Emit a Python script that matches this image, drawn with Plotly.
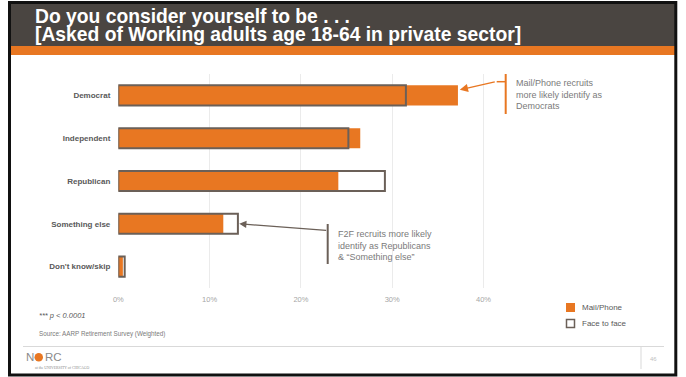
import plotly.graph_objects as go

# Party identification by recruitment mode (percent of respondents)
categories = ["Democrat", "Independent", "Republican", "Something else", "Don't know/skip"]
mail_phone = [37.2, 26.5, 24.1, 11.5, 0.5]
face_to_face = [31.5, 25.2, 29.2, 13.1, 0.7]
series_names = ["Mail/Phone", "Face to face"]
tick_values = [0, 10, 20, 30, 40]
tick_labels = ["0%", "10%", "20%", "30%", "40%"]

W, H = 686, 377
FONT = "Liberation Sans, Arial, sans-serif"
ORANGE = "#E87722"
OUTLINE = "#6b6058"
HEADER = "#4a4541"


def px(x):
    return x / W


def py(y):
    return 1 - y / H


fig = go.Figure()

fig.add_trace(go.Bar(
    y=categories, x=mail_phone, name=series_names[0], orientation="h",
    width=0.47, marker=dict(color=ORANGE, line=dict(width=0)),
    showlegend=False,
))
fig.add_trace(go.Bar(
    y=categories, x=face_to_face, name=series_names[1], orientation="h",
    width=0.47, marker=dict(color="rgba(0,0,0,0)", line=dict(color=OUTLINE, width=2)),
    showlegend=False,
))

shapes = []
annotations = []

# slide frame, header band and accent stripe
shapes.append(dict(type="rect", xref="paper", yref="paper",
                   x0=px(10), x1=px(675), y0=py(46), y1=py(3.5),
                   fillcolor=HEADER, line=dict(width=0), layer="below"))
shapes.append(dict(type="rect", xref="paper", yref="paper",
                   x0=px(10), x1=px(675), y0=py(55), y1=py(46),
                   fillcolor=ORANGE, line=dict(width=0), layer="below"))
shapes.append(dict(type="rect", xref="paper", yref="paper",
                   x0=px(9.5), x1=px(675.8), y0=py(375), y1=py(2.5),
                   line=dict(color="#111111", width=3)))

# two-line heading: small base size keeps the line pitch tight
title_style = "font-size:19.3px;font-weight:bold"
annotations.append(dict(
    xref="paper", yref="paper", x=px(33), y=py(25.5),
    xanchor="left", yanchor="middle", align="left", showarrow=False,
    text=("<span style='%s'>Do you consider yourself to be . . .</span><br>"
          "<span style='%s'>[Asked of Working adults age 18-64 in private sector]</span>")
         % (title_style, title_style),
    font=dict(family=FONT, size=14, color="white")))

# callout: Mail/Phone -> Democrats
shapes.append(dict(type="line", xref="paper", yref="paper",
                   x0=px(505.7), x1=px(505.7), y0=py(74), y1=py(114),
                   line=dict(color=ORANGE, width=2)))
shapes.append(dict(type="line", xref="paper", yref="paper",
                   x0=px(505.7), x1=px(496.7), y0=py(81.7), y1=py(81.7),
                   line=dict(color=ORANGE, width=1.5)))
annotations.append(dict(xref="x", yref="y", x=mail_phone[0] + 0.2, y=-0.13,
                        ax=36.5, ay=-8.3, text="", showarrow=True,
                        arrowhead=2, arrowsize=1.1, arrowwidth=1.5,
                        arrowcolor=ORANGE, standoff=0))
annotations.append(dict(xref="paper", yref="paper", x=px(514), y=py(76.5),
                        xanchor="left", yanchor="top", align="left", showarrow=False,
                        text="Mail/Phone recruits<br>more likely identify as<br>Democrats",
                        font=dict(family=FONT, size=9, color="#7a7a7a")))

# callout: Face to face -> Republicans / Something else
shapes.append(dict(type="line", xref="paper", yref="paper",
                   x0=px(327.7), x1=px(327.7), y0=py(224), y1=py(264),
                   line=dict(color=OUTLINE, width=2)))
annotations.append(dict(xref="x", yref="y", x=face_to_face[3] + 0.15, y=3.0,
                        ax=88.4, ay=6.6, text="", showarrow=True,
                        arrowhead=2, arrowsize=1.1, arrowwidth=1.3,
                        arrowcolor=OUTLINE, standoff=0))
annotations.append(dict(xref="paper", yref="paper", x=px(336), y=py(226.5),
                        xanchor="left", yanchor="top", align="left", showarrow=False,
                        text="F2F recruits more likely<br>identify as Republicans<br>&amp; \u201cSomething else\u201d",
                        font=dict(family=FONT, size=9, color="#7a7a7a")))

# legend
shapes.append(dict(type="rect", xref="paper", yref="paper",
                   x0=px(566), x1=px(575), y0=py(312), y1=py(303),
                   fillcolor=ORANGE, line=dict(width=0)))
shapes.append(dict(type="rect", xref="paper", yref="paper",
                   x0=px(566.5), x1=px(574.5), y0=py(327.5), y1=py(319.5),
                   fillcolor="white", line=dict(color=OUTLINE, width=1.5)))
for name, yc in zip(series_names, [307.5, 323.5]):
    annotations.append(dict(xref="paper", yref="paper", x=px(580), y=py(yc),
                            xanchor="left", yanchor="middle", showarrow=False,
                            text=name, font=dict(family=FONT, size=8, color="#595959")))

# notes
annotations.append(dict(xref="paper", yref="paper", x=px(37), y=py(315),
                        xanchor="left", yanchor="middle", showarrow=False,
                        text="<i>*** p &lt; 0.0001</i>",
                        font=dict(family=FONT, size=7.5, color="#595959")))
annotations.append(dict(xref="paper", yref="paper", x=px(37), y=py(333.5),
                        xanchor="left", yanchor="middle", showarrow=False,
                        text="Source: AARP Retirement Survey (Weighted)",
                        font=dict(family=FONT, size=6.3, color="#7a7a7a")))

# footer with NORC logo and page number
shapes.append(dict(type="line", xref="paper", yref="paper",
                   x0=px(23), x1=px(664), y0=py(346.5), y1=py(346.5),
                   line=dict(color="#d9d9d9", width=1)))
shapes.append(dict(type="line", xref="paper", yref="paper",
                   x0=px(641), x1=px(641), y0=py(346.5), y1=py(369),
                   line=dict(color="#d9d9d9", width=1)))
annotations.append(dict(xref="paper", yref="paper", x=px(653), y=py(358.5),
                        xanchor="center", yanchor="middle", showarrow=False,
                        text="46", font=dict(family=FONT, size=6, color="#bfbfbf")))
annotations.append(dict(xref="paper", yref="paper", x=px(24), y=py(357),
                        xanchor="left", yanchor="middle", showarrow=False,
                        text="N", font=dict(family=FONT, size=11.5, color="#8a8a8a")))
shapes.append(dict(type="circle", xref="paper", yref="paper",
                   x0=px(34.5), x1=px(43), y0=py(361.5), y1=py(353),
                   fillcolor=ORANGE, line=dict(width=0)))
annotations.append(dict(xref="paper", yref="paper", x=px(42.5), y=py(357),
                        xanchor="left", yanchor="middle", showarrow=False,
                        text="RC", font=dict(family=FONT, size=11.5, color="#8a8a8a")))
annotations.append(dict(xref="paper", yref="paper", x=px(33), y=py(367.5),
                        xanchor="left", yanchor="middle", showarrow=False,
                        text="at the UNIVERSITY of CHICAGO",
                        font=dict(family="Liberation Serif, serif", size=3.8, color="#8a8a8a")))

fig.update_layout(
    width=W, height=H,
    margin=dict(l=0, r=0, t=0, b=0, autoexpand=False),
    paper_bgcolor="white", plot_bgcolor="white",
    barmode="overlay",
    font=dict(family=FONT),
    shapes=shapes, annotations=annotations,
    xaxis=dict(domain=[px(118.3), px(118.3 + 50 * 9.13)], range=[0, 50],
               automargin=False,
               tickmode="array", tickvals=tick_values, ticktext=tick_labels,
               showgrid=True, gridcolor="#ebebeb", gridwidth=1,
               zeroline=False, showline=False, ticks="", ticklabelstandoff=5,
               tickfont=dict(family=FONT, size=7.5, color="#a6a6a6")),
    yaxis=dict(domain=[py(288), py(74)], categoryorder="array",
               categoryarray=categories, range=[4.5, -0.5],
               automargin=False,
               showgrid=False, zeroline=False, showline=False,
               ticks="", ticklabelstandoff=7,
               tickfont=dict(family=FONT, size=8, color="#595959", weight="bold")),
)

fig.write_html("out.html")
